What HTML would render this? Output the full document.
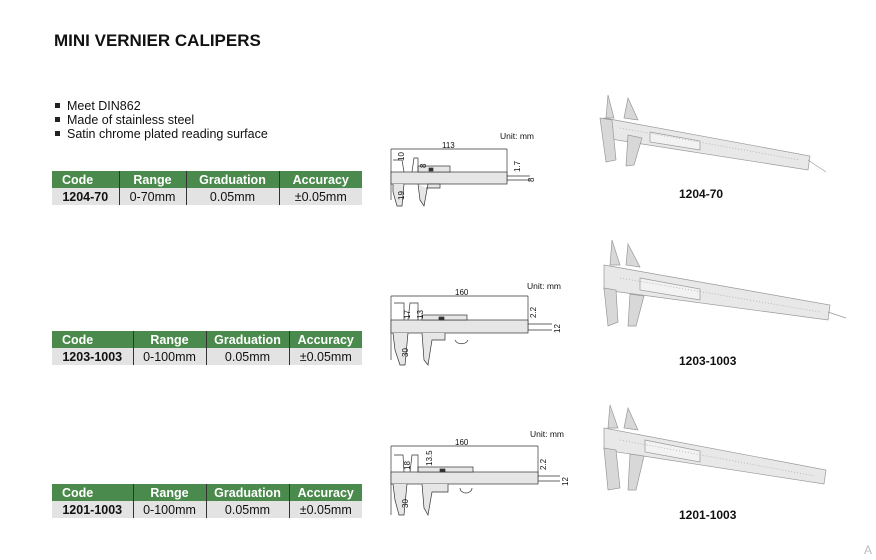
<!DOCTYPE html>
<html><head><meta charset="utf-8"><style>
body{margin:0;width:876px;height:560px;background:#fff;font-family:"Liberation Sans",Arial,sans-serif;position:relative;overflow:hidden}
.a{position:absolute}
h1{position:absolute;left:54px;top:31px;margin:0;font-size:17px;font-weight:bold;color:#111}
ul{position:absolute;left:52px;top:99px;margin:0;padding:0;list-style:none;font-size:12.5px;line-height:14px;color:#111}
ul li:before{content:"";display:inline-block;width:5px;height:5px;background:#222;margin:0 7px 2px 3px}
table{position:absolute;border-collapse:collapse;font-size:12.5px;left:52px;width:310px}
th{background:#4a8a4c;color:#fff;font-weight:bold;height:17px;padding:0;text-align:center;border-left:1px solid #333}
td{background:#e3e3e3;height:17px;padding:0;text-align:center;border-left:1px solid #333;color:#111}
th:first-child{text-align:left;padding-left:10px;border-left:none}
td:first-child{font-weight:bold;border-left:none}
.lbl{position:absolute;font-size:12px;font-weight:bold;color:#111}
.u{position:absolute;font-size:8.5px;color:#111}
</style></head><body>
<h1>MINI VERNIER CALIPERS</h1>
<ul><li>Meet DIN862</li><li>Made of stainless steel</li><li>Satin chrome plated reading surface</li></ul>

<table style="top:171px"><colgroup><col style="width:67px"><col style="width:67px"><col style="width:93px"><col style="width:83px"></colgroup>
<tr><th>Code</th><th>Range</th><th>Graduation</th><th>Accuracy</th></tr>
<tr><td>1204-70</td><td>0-70mm</td><td>0.05mm</td><td>±0.05mm</td></tr></table>
<table style="top:331px"><colgroup><col style="width:81px"><col style="width:73px"><col style="width:83px"><col style="width:73px"></colgroup>
<tr><th>Code</th><th>Range</th><th>Graduation</th><th>Accuracy</th></tr>
<tr><td>1203-1003</td><td>0-100mm</td><td>0.05mm</td><td>±0.05mm</td></tr></table>
<table style="top:484px"><colgroup><col style="width:81px"><col style="width:73px"><col style="width:83px"><col style="width:73px"></colgroup>
<tr><th>Code</th><th>Range</th><th>Graduation</th><th>Accuracy</th></tr>
<tr><td>1201-1003</td><td>0-100mm</td><td>0.05mm</td><td>±0.05mm</td></tr></table>

<div class="u" style="left:500px;top:131px">Unit: mm</div>
<div class="u" style="left:527px;top:281px">Unit: mm</div>
<div class="u" style="left:530px;top:429px">Unit: mm</div>

<svg class="a" style="left:0;top:0" width="876" height="560" font-family="Liberation Sans" font-size="8" fill="none" stroke="#333" stroke-width="0.7">
<g>
<line x1="391" y1="149" x2="507" y2="149"/><text x="442" y="148" fill="#111" stroke="none">113</text>
<line x1="391" y1="149" x2="391" y2="200"/><line x1="507" y1="149" x2="507" y2="182"/>
<rect x="391" y="172" width="116" height="12" fill="#e6e6e6"/>
<rect x="418" y="166" width="32" height="6" fill="#e6e6e6"/>
<path d="M393 160 L402 160 L404 172 M412 172 L414 158 L418 158 L418 172" />
<path d="M393 184 L393 192 L397 206 L402 206 L404 184 M418 184 L420 200 L424 206 L428 184 L440 184 L440 188 L426 188" fill="#e6e6e6"/>
<rect x="429" y="168" width="4" height="3" fill="#333"/>
<path d="M507 176 L530 176 M507 180 L530 180"/>
<g fill="#111" stroke="none"><text transform="translate(404,161) rotate(-90)">10</text><text transform="translate(404,200) rotate(-90)">19</text><text transform="translate(426,168) rotate(-90)">8</text><text transform="translate(520,172) rotate(-90)">1.7</text><text transform="translate(534,182) rotate(-90)">8</text></g>
</g>
<g>
<line x1="391" y1="296" x2="528" y2="296"/><text x="455" y="295" fill="#111" stroke="none">160</text>
<line x1="391" y1="296" x2="391" y2="360"/><line x1="528" y1="296" x2="528" y2="330"/>
<rect x="391" y="320" width="137" height="13" fill="#e6e6e6"/>
<rect x="422" y="315" width="45" height="5" fill="#e6e6e6"/>
<path d="M394 303 L404 303 L404 320 M408 320 L410 303 L418 303 L418 320"/>
<path d="M393 333 L395 350 L400 365 L405 365 L408 333 M422 333 L424 360 L428 365 L432 340 L445 340 L445 333" fill="#e6e6e6"/>
<path d="M455 340 A7 6 0 0 0 468 340"/>
<rect x="439" y="317" width="5" height="3" fill="#333"/>
<path d="M528 324 L552 324 M528 330 L552 330"/>
<g fill="#111" stroke="none"><text transform="translate(410,319) rotate(-90)">17</text><text transform="translate(423,319) rotate(-90)">13</text><text transform="translate(408,357) rotate(-90)">30</text><text transform="translate(536,318) rotate(-90)">2.2</text><text transform="translate(560,333) rotate(-90)">12</text></g>
</g>
<g>
<line x1="391" y1="446" x2="538" y2="446"/><text x="455" y="445" fill="#111" stroke="none">160</text>
<line x1="391" y1="446" x2="391" y2="515"/><line x1="538" y1="446" x2="538" y2="480"/>
<rect x="391" y="472" width="147" height="12" fill="#e6e6e6"/>
<rect x="418" y="467" width="55" height="5" fill="#e6e6e6"/>
<path d="M394 455 L403 455 L404 472 M410 472 L412 455 L418 455 L418 472"/>
<path d="M393 484 L395 500 L399 515 L404 515 L407 484 M422 484 L424 508 L428 515 L432 492 L448 492 L448 484" fill="#e6e6e6"/>
<path d="M460 488 A6 5 0 0 0 472 488"/>
<rect x="440" y="469" width="5" height="3" fill="#333"/>
<path d="M538 476 L560 476 M538 481 L560 481"/>
<g fill="#111" stroke="none"><text transform="translate(410,470) rotate(-90)">18</text><text transform="translate(432,466) rotate(-90)">13.5</text><text transform="translate(408,508) rotate(-90)">30</text><text transform="translate(546,470) rotate(-90)">2.2</text><text transform="translate(568,486) rotate(-90)">12</text></g>
</g>
<g stroke="#999" fill="#d8d8d8">
<path d="M604 118 L810 156 L808 170 L604 138 Z" fill="#e8e8e8"/>
<path d="M650 132 L700 141 L700 150 L650 142 Z" fill="#f2f2f2"/>
<path d="M600 118 L612 120 L616 160 L606 162 Z"/><path d="M628 135 L642 138 L634 165 L626 166 Z"/>
<path d="M608 95 L614 118 L606 118 Z"/><path d="M628 98 L638 120 L624 118 Z"/>
<path d="M808 160 L826 172"/>
<path d="M620 128 L800 160" stroke="#aaa" stroke-dasharray="1 2"/>
<path d="M604 265 L830 305 L828 320 L604 290 Z" fill="#e8e8e8"/>
<path d="M640 278 L700 289 L700 300 L640 290 Z" fill="#f2f2f2"/>
<path d="M604 288 L616 290 L618 322 L608 326 Z"/><path d="M630 294 L644 296 L636 326 L628 326 Z"/>
<path d="M612 240 L620 265 L610 265 Z"/><path d="M628 244 L640 267 L626 265 Z"/>
<path d="M828 312 L846 318"/>
<path d="M620 278 L820 312" stroke="#aaa" stroke-dasharray="1 2"/>
<path d="M604 428 L826 470 L824 484 L604 450 Z" fill="#e8e8e8"/>
<path d="M645 440 L700 451 L700 462 L645 452 Z" fill="#f2f2f2"/>
<path d="M604 448 L616 450 L620 488 L608 490 Z"/><path d="M630 454 L644 456 L636 490 L628 490 Z"/>
<path d="M610 405 L618 428 L608 428 Z"/><path d="M628 408 L638 430 L624 428 Z"/>
<path d="M620 440 L815 476" stroke="#aaa" stroke-dasharray="1 2"/>
</g>
</svg>
<div class="lbl" style="left:679px;top:187px">1204-70</div>
<div class="lbl" style="left:679px;top:354px">1203-1003</div>
<div class="lbl" style="left:679px;top:508px">1201-1003</div>
<div class="a" style="left:864px;top:543px;font-size:12px;color:#bbb">A</div>
</body></html>
